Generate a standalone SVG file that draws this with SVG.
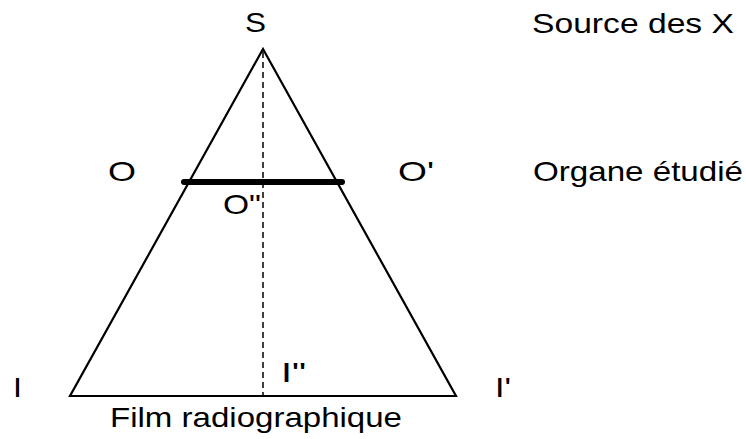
<svg xmlns="http://www.w3.org/2000/svg" width="746" height="439" viewBox="0 0 746 439">
<style>
text{font-family:"Liberation Sans",Arial,sans-serif;font-size:28px;fill:#000}
.edge{stroke:#000;fill:none;stroke-linejoin:miter}
</style>
<rect width="746" height="439" fill="#fff"/>
<g id="connectors">
<polygon class="edge" points="263,49 70,396 456,396" stroke-width="2.2"/>
<line class="edge" x1="263" y1="52" x2="263" y2="396" stroke-width="1.5" stroke-dasharray="6,4"/>
<line class="edge" x1="184" y1="182" x2="342" y2="182" stroke-width="6" stroke-linecap="round"/>
</g>
<g id="S"><text x="245" y="32" textLength="21" lengthAdjust="spacingAndGlyphs">S</text></g>
<g id="source"><text x="532" y="33" textLength="202" lengthAdjust="spacingAndGlyphs">Source des X</text></g>
<g id="O"><text x="108" y="181" textLength="28" lengthAdjust="spacingAndGlyphs">O</text></g>
<g id="Oprime"><text x="398" y="181" textLength="36" lengthAdjust="spacingAndGlyphs">O'</text></g>
<g id="organe"><text x="533" y="181" textLength="210" lengthAdjust="spacingAndGlyphs">Organe étudié</text></g>
<g id="Osecond"><text x="223" y="214" textLength="38" lengthAdjust="spacingAndGlyphs">O"</text></g>
<g id="I"><text x="13" y="397" textLength="9" lengthAdjust="spacingAndGlyphs">I</text></g>
<g id="Isecond"><text x="281" y="382" textLength="25" lengthAdjust="spacingAndGlyphs">I"</text></g>
<g id="Iprime"><text x="495" y="397" textLength="16" lengthAdjust="spacingAndGlyphs">I'</text></g>
<g id="film"><text x="110" y="427" textLength="292" lengthAdjust="spacingAndGlyphs">Film radiographique</text></g>
</svg>
